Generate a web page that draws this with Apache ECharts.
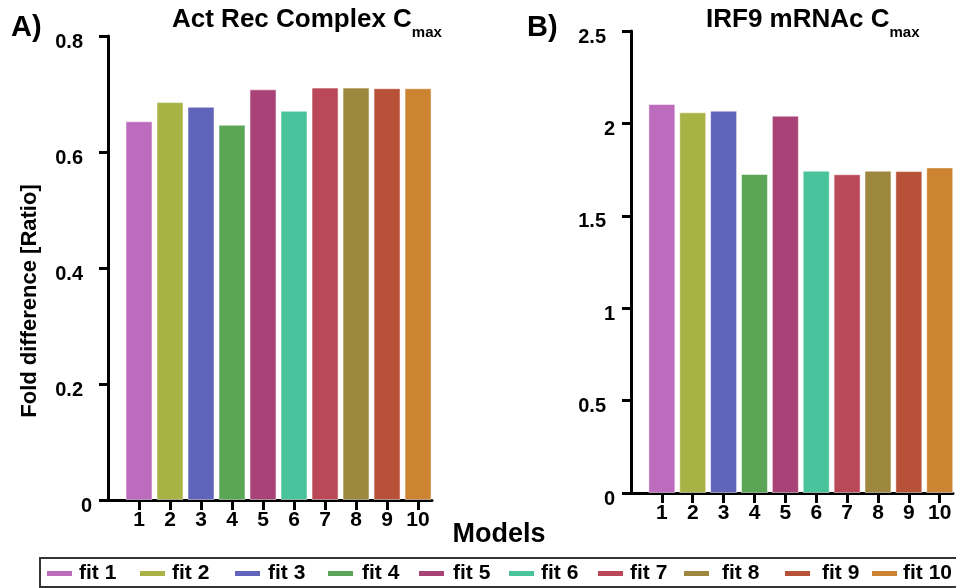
<!DOCTYPE html>
<html>
<head>
<meta charset="utf-8">
<title>Fold difference of Cmax per model</title>
<script src="https://cdn.jsdelivr.net/npm/echarts@6/dist/echarts.min.js"></script>
<style>
  html, body { margin: 0; padding: 0; background: #ffffff; }
  #chart { width: 956px; height: 588px; }
</style>
</head>
<body>
<div id="chart"></div>
<script>
// Model indices along both x axes
const models = [1, 2, 3, 4, 5, 6, 7, 8, 9, 10];
// Legend / series names
const fitNames = ['fit 1', 'fit 2', 'fit 3', 'fit 4', 'fit 5', 'fit 6', 'fit 7', 'fit 8', 'fit 9', 'fit 10'];
// Panel A: Act Rec Complex Cmax fold difference
const actRecCmax = [0.653, 0.686, 0.678, 0.647, 0.708, 0.671, 0.711, 0.711, 0.710, 0.710];
// Panel B: IRF9 mRNAc Cmax fold difference
const irf9Cmax = [2.105, 2.060, 2.069, 1.726, 2.042, 1.744, 1.725, 1.744, 1.742, 1.762];
// Y axis ranges and tick steps
const yMaxA = 0.8, yStepA = 0.2;
const yMaxB = 2.5, yStepB = 0.5;

const fitColors = ['#BD6BBD', '#A8B245', '#6064BA', '#5BA556', '#A94276',
                   '#48C39B', '#BA4858', '#9E883F', '#B75238', '#CD8432'];

const FONT = "'Liberation Sans', Arial, Helvetica, sans-serif";

// legend entry placement (icon left edge, icon-to-text gap)
const legendLeft = [47, 140, 235, 328, 419, 509, 598, 684, 785, 872];
const legendGap  = [7, 7, 8, 9, 9, 7, 7, 13, 12, 6];

function yLabelFormatter(v) {
  const r = Math.round(v * 1000) / 1000;
  return Number.isInteger(r) ? '{i|' + r + '}' : '{d|' + r + '}';
}
const yLabelRich = {
  i: { fontFamily: FONT, fontWeight: 'bold', fontSize: 20, color: '#000', padding: [12, 0, 0, 0] },
  d: { fontFamily: FONT, fontWeight: 'bold', fontSize: 20, color: '#000', padding: [12, 9, 0, 0] }
};

function makeXAxis(gridIndex, max) {
  return {
    type: 'value', gridIndex: gridIndex, min: 0, max: max,
    splitLine: { show: false },
    axisLine: { show: true, lineStyle: { color: '#000', width: 3 } },
    axisTick: { show: true, length: 10, lineStyle: { color: '#000', width: 3 }, customValues: models },
    axisLabel: {
      customValues: models, margin: 10,
      fontFamily: FONT, fontWeight: 'bold', fontSize: 21, color: '#000'
    }
  };
}
function makeYAxis(gridIndex, max, step) {
  return {
    type: 'value', gridIndex: gridIndex, min: 0, max: max, interval: step,
    splitLine: { show: false },
    axisLine: { show: true, lineStyle: { color: '#000', width: 3 } },
    axisTick: { show: true, length: 9, lineStyle: { color: '#000', width: 3 } },
    axisLabel: {
      margin: 16, formatter: yLabelFormatter, rich: yLabelRich,
      fontFamily: FONT, fontWeight: 'bold', fontSize: 20, color: '#000'
    }
  };
}

const series = [];
[actRecCmax, irf9Cmax].forEach(function (values, panel) {
  fitNames.forEach(function (name, k) {
    series.push({
      name: name, type: 'bar',
      xAxisIndex: panel, yAxisIndex: panel,
      barWidth: 27, barGap: '-100%',
      itemStyle: { color: fitColors[k], borderColor: 'rgba(255,255,255,0.5)', borderWidth: 1 },
      data: [[models[k], values[k]]]
    });
  });
});

const legends = fitNames.map(function (name, k) {
  return {
    data: [name], left: legendLeft[k], top: 563, padding: 0,
    icon: 'rect', itemWidth: 25, itemHeight: 5,
    itemStyle: { borderWidth: 0 },
    textStyle: {
      fontFamily: FONT, fontWeight: 'bold', fontSize: 21, color: '#000',
      padding: [0, 0, 0, legendGap[k] - 5]
    }
  };
});

function titleRich() {
  return {
    a: { fontFamily: FONT, fontWeight: 'bold', fontSize: 26, color: '#000', lineHeight: 30, verticalAlign: 'top' },
    b: { fontFamily: FONT, fontWeight: 'bold', fontSize: 15, color: '#000', lineHeight: 17, padding: [18, 0, 0, 0], verticalAlign: 'top' }
  };
}

const option = {
  animation: false,
  backgroundColor: '#ffffff',
  title: [
    { text: '{a|Act Rec Complex C}{b|max}', left: 172, top: 7, padding: 0, textStyle: { rich: titleRich() } },
    { text: '{a|IRF9 mRNAc C}{b|max}', left: 706, top: 7, padding: 0, textStyle: { rich: titleRich() } }
  ],
  grid: [
    { left: 108, top: 36, width: 324, height: 464 },
    { left: 631, top: 31, width: 322, height: 462 }
  ],
  xAxis: [makeXAxis(0, 10.45), makeXAxis(1, 10.43)],
  yAxis: [makeYAxis(0, yMaxA, yStepA), makeYAxis(1, yMaxB, yStepB)],
  legend: legends,
  series: series,
  graphic: [
    { type: 'text', left: 11, top: 13,
      style: { text: 'A)', font: 'bold 29px ' + FONT, fill: '#000' } },
    { type: 'text', left: 527, top: 13,
      style: { text: 'B)', font: 'bold 29px ' + FONT, fill: '#000' } },
    { type: 'text', x: 30, y: 301, rotation: Math.PI / 2,
      style: { text: 'Fold difference [Ratio]', font: 'bold 22px ' + FONT, fill: '#000',
               align: 'center', verticalAlign: 'middle' } },
    { type: 'text', x: 499, y: 535,
      style: { text: 'Models', font: 'bold 27px ' + FONT, fill: '#000',
               align: 'center', verticalAlign: 'middle' } },
    { type: 'rect', z: -1,
      shape: { x: 40, y: 558, width: 930, height: 29 },
      style: { fill: 'none', stroke: '#333', lineWidth: 2 } }
  ]
};

const chart = echarts.init(document.getElementById('chart'), null, { renderer: 'canvas' });
chart.setOption(option);
</script>
</body>
</html>
